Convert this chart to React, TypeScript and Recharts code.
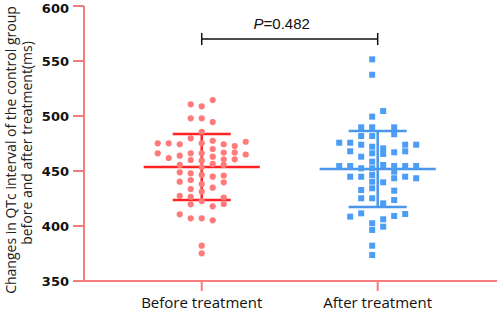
import { ScatterChart, Scatter, XAxis, YAxis, ReferenceLine } from 'recharts';

const groups = ['Before treatment', 'After treatment'];
const yTicks = [350, 400, 450, 500, 550, 600];

// QTc values (ms), one list per dot-plot lane, left to right
const beforeLanes: number[][] = [
  [475.2, 466.1],
  [475.2, 461.8],
  [474.3, 463.9, 455.5, 448.8, 440.3, 427.3, 410.6],
  [510.6, 497.9, 479.7, 466.1, 460.0, 447.9, 441.8, 433.6, 426.4, 419.7, 407.0],
  [508.8, 497.9, 485.7, 475.2, 466.1, 459.4, 453.6, 446.4, 438.2, 431.2, 422.7, 407.0, 382.1, 375.2],
  [514.5, 494.5, 477.5, 470.0, 463.0, 456.4, 444.8, 434.8, 417.9, 405.2],
  [474.3, 466.8, 460.7, 455.5, 445.9, 439.7, 425.9, 420.0],
  [472.7, 466.8, 460.6],
  [476.6, 465.0],
];

const afterLanes: number[][] = [
  [475.7, 454.5],
  [475.7, 467.9, 454.5, 444.8, 408.5],
  [489.7, 481.8, 473.9, 463.0, 452.5, 444.8, 432.7, 425.2, 411.5],
  [551.5, 537.5, 499.4, 489.7, 481.8, 472.1, 466.1, 458.5, 452.5, 446.4, 440.3, 434.3, 425.2, 402.5, 396.4, 382.1, 373.6],
  [504.5, 470.6, 465.5, 455.5, 439.7, 420.6, 406.1, 399.4],
  [489.7, 483.4, 467.0, 454.5, 449.4, 443.4, 432.1, 423.6, 409.1],
  [473.9, 467.9, 454.5, 444.8, 410.9],
  [473.9, 454.5, 443.4],
];

// mean and mean ± SD
const beforeStats = { mean: 453.6, lo: 423.6, hi: 483.6 };
const afterStats = { mean: 451.8, lo: 417.3, hi: 486.4 };

const pLabel = '0.482';
const bracketY = 570;

const LANE = 0.0625;
const MEAN_HALF = 0.33;
const SD_HALF = 0.165;
const CAP = 5.5;

const RED_DOT = '#ff7a7a';
const RED_LINE = '#ff2424';
const BLUE_DOT = '#4c9df5';
const BLUE_LINE = '#4a96ec';
const AXIS = '#f47c7c';

function toPoints(lanes: number[][], center: number) {
  const mid = (lanes.length - 1) / 2;
  return lanes.flatMap((vals, i) => vals.map((v) => ({ x: center + (i - mid) * LANE, y: v })));
}

const beforeData = toPoints(beforeLanes, 1);
const afterData = toPoints(afterLanes, 2);

const Dot = (props: any) => (
  <circle cx={props.cx} cy={props.cy} r={3.1} fill={RED_DOT} />
);
const Square = (props: any) => (
  <rect x={props.cx - 3} y={props.cy - 3} width={6} height={6} fill={BLUE_DOT} />
);

function statLines(center: number, s: { mean: number; lo: number; hi: number }, color: string, key: string) {
  return [
    <ReferenceLine key={key + 'v'} segment={[{ x: center, y: s.lo }, { x: center, y: s.hi }]} stroke={color} strokeWidth={2.5} />,
    <ReferenceLine key={key + 'h'} segment={[{ x: center - SD_HALF, y: s.hi }, { x: center + SD_HALF, y: s.hi }]} stroke={color} strokeWidth={2.5} />,
    <ReferenceLine key={key + 'l'} segment={[{ x: center - SD_HALF, y: s.lo }, { x: center + SD_HALF, y: s.lo }]} stroke={color} strokeWidth={2.5} />,
    <ReferenceLine key={key + 'm'} segment={[{ x: center - MEAN_HALF, y: s.mean }, { x: center + MEAN_HALF, y: s.mean }]} stroke={color} strokeWidth={2.5} />,
  ];
}

const yLabel = () => (
  <g fontFamily="Open Sans" fontSize={14} fill="#222">
    <text x={10} y={150} transform="rotate(-90 10 150)" textAnchor="middle" dominantBaseline="central">
      Changes in QTc interval of the control  group
    </text>
    <text x={26} y={143} transform="rotate(-90 26 143)" textAnchor="middle" dominantBaseline="central">
      before and after treatment(ms)
    </text>
  </g>
);

const pText = (props: any) => {
  const vb = props.viewBox || {};
  const cx = (vb.x ?? 0) + (vb.width ?? 0) / 2 - 8;
  return (
    <text x={cx} y={(vb.y ?? 0) - 10} textAnchor="middle" fontFamily="Liberation Sans" fontSize={15} fill="#111">
      <tspan fontStyle="italic">P</tspan>
      <tspan>=0.482</tspan>
    </text>
  );
};

export default function App() {
  return (
    <div style={{ position: 'absolute', left: 0, top: 0, background: '#fff' }}>
      <ScatterChart width={498} height={312} margin={{ top: 6, right: 1, bottom: 0, left: 0 }}>
        <XAxis
          type="number"
          dataKey="x"
          domain={[0.331, 2.678]}
          ticks={[1, 2]}
          tickFormatter={(v) => groups[v - 1]}
          stroke={AXIS}
          strokeWidth={2}
          tickSize={10}
          tickMargin={6}
          height={31}
          tick={{ fill: '#111', fontSize: 15, fontFamily: 'Open Sans' }}
          allowDataOverflow
        />
        <YAxis
          type="number"
          dataKey="y"
          domain={[350, 600]}
          ticks={yTicks}
          width={84}
          stroke={AXIS}
          strokeWidth={2}
          tickSize={11}
          tickMargin={4}
          tick={{ fill: '#111', fontSize: 13, fontWeight: 'bold', fontFamily: 'DejaVu Sans' }}
          label={{ content: yLabel }}
          allowDataOverflow
        />
        <Scatter data={beforeData} shape={Dot} isAnimationActive={false} />
        <Scatter data={afterData} shape={Square} isAnimationActive={false} />
        {statLines(1, beforeStats, RED_LINE, 'b')}
        {statLines(2, afterStats, BLUE_LINE, 'a')}
        <ReferenceLine
          segment={[{ x: 1, y: bracketY }, { x: 2, y: bracketY }]}
          stroke="#111"
          strokeWidth={1.5}
          label={{ content: pText, value: pLabel }}
        />
        <ReferenceLine segment={[{ x: 1, y: bracketY - CAP }, { x: 1, y: bracketY + CAP }]} stroke="#111" strokeWidth={1.5} />
        <ReferenceLine segment={[{ x: 2, y: bracketY - CAP }, { x: 2, y: bracketY + CAP }]} stroke="#111" strokeWidth={1.5} />
      </ScatterChart>
    </div>
  );
}
